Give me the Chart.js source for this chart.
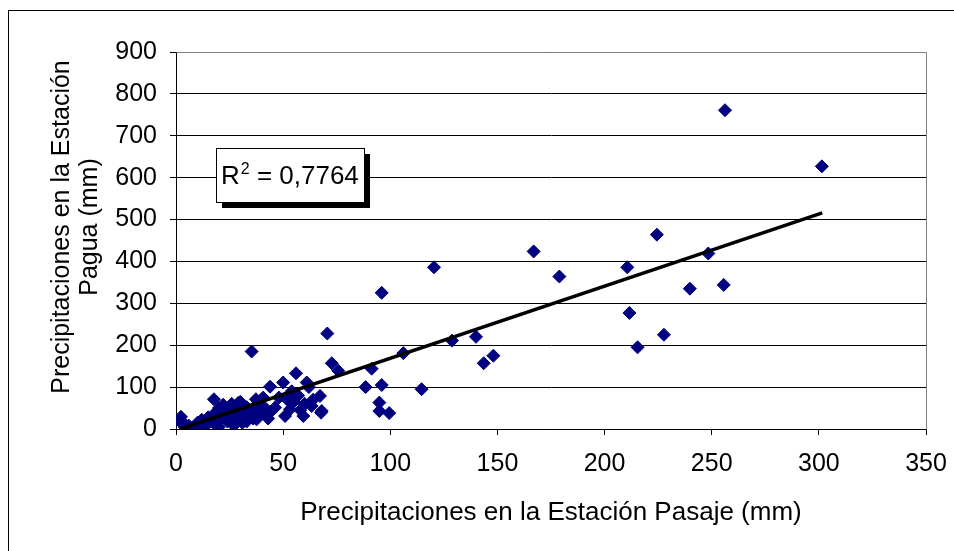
<!DOCTYPE html>
<html>
<head>
<meta charset="utf-8">
<script src="https://cdn.jsdelivr.net/npm/chart.js@4.4.1/dist/chart.umd.min.js"></script>
<style>
html,body{margin:0;padding:0;background:#fff;}
canvas{display:block;}
</style>
</head>
<body>
<canvas id="c" width="954" height="551"></canvas>
<script>
// Precipitaciones en la Estación Pasaje (mm)
const pasajeX = [256.2,301.4,224.4,166.9,248.4,210.6,120.4,178.9,239.8,255.6,96,211.6,140,128.8,227.7,148.1,143.6,215.4,70.6,35.3,72.7,75.7,106.1,91.3,88.5,96,114.6,94.9,94.9,99.5,67.7,56,50,43.9,61,67.2,37.3,40.7,46.2,53.2,63.3,68,50.9,59.4,35.3,37.6,17.7,2.3,2.5,
  3,4,8,10,12,14,15,17,18,19,20,21,22,23,24,25,26,27,28,29,30,31,32,33,34,36,38,39,40,42,44,22,26,16,11,6,20,24,31,33,27,36,43,55,57,60,64,58,62,54,48,52,29,25,13,9,18];
// Precipitaciones en la Estación Pagua (mm)
const paguaY = [761,627,464,424,419,386,386,364,335,344,325,277,220,211,225,175,157,195,228,185,157,139,181,144,100,105,95,63,43,38,39,133,111,101,111,79,71,75,51,47,55,43,31,31,39,23,71,29,20,
  12,5,3,15,22,8,28,32,12,40,5,25,45,35,18,55,60,30,48,20,65,38,25,52,30,45,60,35,55,48,40,58,42,20,10,8,50,38,15,18,8,25,25,65,80,60,70,45,100,90,75,70,62,30,18,6,30];
// Linear trendline (as drawn by the spreadsheet)
const trendX = [2, 301.6];
const trendY = [0, 516];
const r2Label = '0,7764';
const xTicks = [0,50,100,150,200,250,300,350];
const yTicks = [0,100,200,300,400,500,600,700,800,900];
const xTitle = 'Precipitaciones en la Estación Pasaje (mm)';
const yTitle = ['Precipitaciones en la Estación', 'Pagua (mm)'];

const FONT = "'Liberation Sans', Arial, sans-serif";

const points = pasajeX.map((x, i) => ({x: x, y: paguaY[i]}));
const trend = trendX.map((x, i) => ({x: x, y: trendY[i]}));

const decor = {
  id: 'decor',
  beforeDraw(chart) {
    const ctx = chart.ctx;
    ctx.save();
    ctx.fillStyle = '#fff';
    ctx.fillRect(0, 0, chart.width, chart.height);
    ctx.strokeStyle = '#000';
    ctx.lineWidth = 1;
    ctx.strokeRect(8.5, 10.5, chart.width + 20, chart.height + 20);
    ctx.restore();
  },
  afterDraw(chart) {
    const ctx = chart.ctx;
    const a = chart.chartArea;
    ctx.save();
    // plot area frame (top and right)
    ctx.strokeStyle = '#808080';
    ctx.lineWidth = 1;
    ctx.beginPath();
    ctx.moveTo(Math.round(a.left) + 0.5, Math.round(a.top) + 0.5);
    ctx.lineTo(Math.round(a.right) + 0.5, Math.round(a.top) + 0.5);
    ctx.lineTo(Math.round(a.right) + 0.5, Math.round(a.bottom) + 0.5);
    ctx.stroke();
    // y axis title (two lines, rotated)
    ctx.fillStyle = '#000';
    ctx.font = '25px ' + FONT;
    ctx.textAlign = 'center';
    ctx.textBaseline = 'middle';
    const cy = 227;
    const xs = [62, 90];
    yTitle.forEach((t, i) => {
      ctx.save();
      ctx.translate(xs[i], cy);
      ctx.rotate(-Math.PI / 2);
      ctx.fillText(t, 0, 0);
      ctx.restore();
    });
    // R² label box
    const bx = 216, by = 148, bw = 148, bh = 54;
    ctx.fillStyle = '#000';
    ctx.fillRect(bx + 6, by + 6, bw, bh);
    ctx.fillStyle = '#fff';
    ctx.fillRect(bx, by, bw, bh);
    ctx.strokeStyle = '#000';
    ctx.lineWidth = 1;
    ctx.strokeRect(bx + 0.5, by + 0.5, bw, bh);
    ctx.fillStyle = '#000';
    ctx.textAlign = 'left';
    ctx.textBaseline = 'alphabetic';
    ctx.font = '26px ' + FONT;
    let tx = 221;
    const base = 184;
    ctx.fillText('R', tx, base);
    tx += ctx.measureText('R').width;
    ctx.font = '16px ' + FONT;
    ctx.fillText('2', tx + 1, base - 10);
    tx += ctx.measureText('2').width + 1;
    ctx.font = '26px ' + FONT;
    ctx.fillText(' = ' + r2Label, tx, base);
    ctx.restore();
  }
};

new Chart(document.getElementById('c'), {
  type: 'scatter',
  data: {
    datasets: [
      {
        label: 'Tendencia',
        data: trend,
        showLine: true,
        borderColor: '#000',
        borderWidth: 3.5,
        pointRadius: 0,
        fill: false,
        order: 0
      },
      {
        label: 'Precipitaciones',
        data: points,
        pointStyle: 'rectRot',
        pointRadius: 6.5,
        pointHoverRadius: 6.5,
        backgroundColor: '#000080',
        borderColor: '#000080',
        borderWidth: 1,
        order: 1
      }
    ]
  },
  options: {
    responsive: false,
    animation: false,
    devicePixelRatio: 1,
    layout: {padding: {left: 0, top: 52, right: 28, bottom: 0}},
    plugins: {legend: {display: false}, tooltip: {enabled: false}},
    scales: {
      x: {
        type: 'linear',
        min: 0, max: 350,
        afterBuildTicks: s => { s.ticks = xTicks.map(v => ({value: v})); },
        afterFit: s => { s.height = 122; s.paddingLeft = 0; s.paddingRight = 0; },
        ticks: {color: '#000', font: {family: FONT, size: 25}, padding: 14},
        grid: {drawOnChartArea: false, drawTicks: true, tickLength: 6, color: '#000', lineWidth: 1},
        border: {display: true, color: '#000', width: 1},
        title: {display: true, text: xTitle, color: '#000', font: {family: FONT, size: 26}, padding: {top: 0, bottom: 23}}
      },
      y: {
        type: 'linear',
        min: 0, max: 900,
        afterBuildTicks: s => { s.ticks = yTicks.map(v => ({value: v})); },
        afterFit: s => { s.width = 176; s.paddingTop = 0; s.paddingBottom = 0; },
        ticks: {color: '#000', font: {family: FONT, size: 25}, padding: 13},
        grid: {drawOnChartArea: true, drawTicks: true, tickLength: 6, color: '#000', lineWidth: 1},
        border: {display: true, color: '#000', width: 1}
      }
    }
  },
  plugins: [decor]
});
</script>
</body>
</html>
